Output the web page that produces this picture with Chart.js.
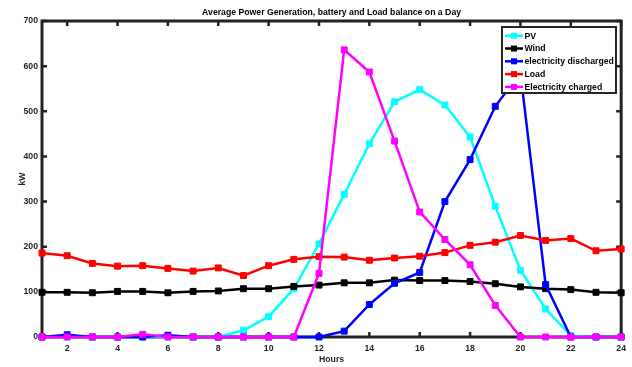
<!DOCTYPE html>
<html><head><meta charset="utf-8">
<script src="https://cdn.jsdelivr.net/npm/chart.js@4/dist/chart.umd.min.js"></script>
<style>html,body{margin:0;padding:0;background:#fff}#wrap{width:632px;height:367px;position:relative}</style>
</head><body><div id="wrap"><canvas id="c" width="632" height="367"></canvas></div>
<script>
const hours = [1,2,3,4,5,6,7,8,9,10,11,12,13,14,15,16,17,18,19,20,21,22,23,24];
const pv = [0,0,0,0,0,0,0,0,15,45,107,206,316,428,521,548,514,443,290,148,62,3,0,0];
const wind = [99,99,98,101,101,98,101,102,107,107,112,115,120,120,126,125,125,123,118,111,107,105,99,98];
const discharged = [0,5,0,0,0,4,0,0,0,0,0,0,13,72,119,143,300,393,511,585,116,0,0,0];
const load = [186,180,163,157,158,152,146,153,136,158,172,178,177,170,175,179,187,203,210,225,214,218,191,195];
const charged = [0,0,0,0,6,0,0,0,0,0,0,141,636,587,434,277,216,160,70,0,0,0,0,0];
const xTicks = [2,4,6,8,10,12,14,16,18,20,22,24];
const yTicks = [0,100,200,300,400,500,600,700];
const seriesNames = ['PV','Wind','electricity discharged','Load','Electricity charged'];
const seriesColors = ['#00FFFF','#000000','#0000FF','#FF0000','#FF00FF'];
const titleText = 'Average Power Generation, battery and Load balance on a Day';
const xLabel = 'Hours';
const yLabel = 'kW';

const FONT = 'bold 8.7px "Liberation Sans", Arial, sans-serif';
const allSeries = [pv, wind, discharged, load, charged];

const datasets = allSeries.map((arr, i) => ({
  label: seriesNames[i],
  data: hours.map((h, j) => ({x: h, y: arr[j]})),
  borderColor: seriesColors[i],
  backgroundColor: seriesColors[i],
  pointBackgroundColor: seriesColors[i],
  pointBorderColor: seriesColors[i],
  borderWidth: 2.5,
  pointStyle: 'rect',
  pointRadius: 4.2,
  pointBorderWidth: 1,
  tension: 0,
  fill: false,
  clip: false,
  order: 5 - i
}));

const framePlugin = {
  id: 'frame',
  beforeDatasetsDraw(chart) {
    const {ctx, chartArea: a, scales} = chart;
    ctx.save();
    ctx.strokeStyle = '#222';
    ctx.lineWidth = 2.5;
    const tl = 5;
    ctx.beginPath();
    xTicks.forEach(v => {
      const px = scales.x.getPixelForValue(v);
      ctx.moveTo(px, a.bottom); ctx.lineTo(px, a.bottom - tl);
      ctx.moveTo(px, a.top); ctx.lineTo(px, a.top + tl);
    });
    yTicks.forEach(v => {
      const py = scales.y.getPixelForValue(v);
      ctx.moveTo(a.left, py); ctx.lineTo(a.left + tl, py);
      ctx.moveTo(a.right, py); ctx.lineTo(a.right - tl, py);
    });
    ctx.stroke();
    ctx.lineWidth = 3;
    ctx.strokeRect(a.left, a.top, a.right - a.left, a.bottom - a.top);
    ctx.restore();
  },
  afterDraw(chart) {
    const {ctx, chartArea: a} = chart;
    ctx.save();
    ctx.font = FONT;
    ctx.fillStyle = '#000';
    ctx.textAlign = 'center';
    ctx.textBaseline = 'middle';
    const cx = (a.left + a.right) / 2;
    ctx.fillText(titleText, cx, 13);
    ctx.fillStyle = '#262626';
    ctx.fillText(xLabel, cx, 360);
    ctx.save();
    ctx.translate(22.5, (a.top + a.bottom) / 2);
    ctx.rotate(-Math.PI / 2);
    ctx.fillText(yLabel, 0, 0);
    ctx.restore();
    // legend
    const lx = 502, ly = 27, lw = 114, lh = 66;
    ctx.fillStyle = '#fff';
    ctx.fillRect(lx, ly, lw, lh);
    ctx.strokeStyle = '#262626';
    ctx.lineWidth = 2;
    ctx.strokeRect(lx, ly, lw, lh);
    ctx.textAlign = 'left';
    ctx.font = FONT;
    seriesNames.forEach((name, i) => {
      const y = 35.7 + i * 12.8;
      ctx.strokeStyle = seriesColors[i];
      ctx.lineWidth = 2.5;
      ctx.beginPath(); ctx.moveTo(505, y); ctx.lineTo(523, y); ctx.stroke();
      ctx.fillStyle = seriesColors[i];
      ctx.fillRect(511, y - 3, 6, 6);
      ctx.fillStyle = '#000';
      ctx.fillText(name, 524.5, y + 0.5);
    });
    ctx.restore();
  }
};

const tickFont = {size: 8.7, weight: 'bold', family: '"Liberation Sans", Arial, sans-serif'};

new Chart(document.getElementById('c'), {
  type: 'line',
  data: {datasets},
  options: {
    responsive: false,
    devicePixelRatio: 1,
    animation: false,
    layout: {padding: {top: 21, right: 8, bottom: 0, left: 0}},
    plugins: {legend: {display: false}, title: {display: false}, tooltip: {enabled: false}},
    scales: {
      x: {
        type: 'linear', min: 1, max: 24,
        afterBuildTicks: s => { s.ticks = xTicks.map(v => ({value: v})); },
        afterFit: s => { s.height = 30; },
        grid: {display: false, drawTicks: false},
        border: {display: false},
        ticks: {padding: 6, font: tickFont, color: '#262626', maxRotation: 0, autoSkip: false}
      },
      y: {
        type: 'linear', min: 0, max: 700,
        afterBuildTicks: s => { s.ticks = yTicks.map(v => ({value: v})); },
        afterFit: s => { s.width = 42; },
        grid: {display: false, drawTicks: false},
        border: {display: false},
        ticks: {padding: 4, font: tickFont, color: '#262626', autoSkip: false}
      }
    }
  },
  plugins: [framePlugin]
});
</script></body></html>
